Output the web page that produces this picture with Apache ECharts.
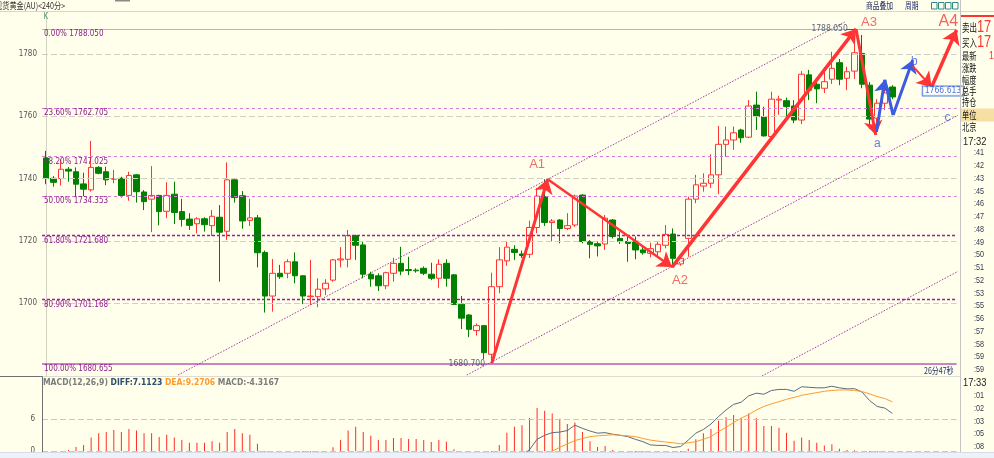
<!DOCTYPE html>
<html><head><meta charset="utf-8">
<script src="https://cdn.jsdelivr.net/npm/echarts@6/dist/echarts.min.js"></script>
<style>html,body{margin:0;padding:0;background:#FFFFEC;}#c{width:994px;height:458px;}</style>
</head><body><div id="c"></div>
<script>
// ---------------- data ----------------
const categories = Array.from({length: 121}, (_, i) => String(i + 1));

const opens = [1746.6,1740.1,1740.0,1743.0,1742.2,1738.3,1736.4,1743.6,1742.2,1739.8,
1740.1,1734.6,1741.2,1735.7,1733.4,1734.6,1729.5,1735.0,1729.4,1727.0,
1725.5,1727.1,1724.9,1727.6,1723.1,1739.6,1734.5,1726.6,1727.4,1716.3,
1702.3,1709.6,1709.6,1713.3,1708.8,1702.1,1702.1,1704.6,1707.4,1713.9,
1714.1,1721.7,1718.7,1709.3,1708.8,1705.6,1709.6,1712.8,1710.8,1710.6,
1711.2,1709.3,1708.0,1712.8,1709.1,1699.7,1696.2,1691.2,1692.8,1683.6,
1705.3,1713.6,1717.3,1715.8,1715.7,1724.3,1734.2,1725.9,1726.7,1724.0,
1725.1,1734.7,1719.8,1719.1,1719.0,1726.7,1720.8,1719.8,1719.9,1717.1,
1716.0,1716.5,1718.6,1722.2,1712.6,1720.8,1733.4,1737.6,1738.5,1741.2,
1751.0,1752.4,1755.6,1753.3,1763.6,1759.9,1753.5,1765.2,1765.0,1763.3,
1758.8,1773.3,1770.3,1769.0,1771.9,1777.2,1772.2,1774.5,1780.2,1770.0,
1759.4,1764.2,1769.4];

const closes = [1740.1,1738.8,1743.0,1742.4,1738.2,1736.6,1743.6,1741.7,1739.6,1740.0,
1734.6,1741.0,1735.8,1732.6,1734.6,1729.4,1734.6,1729.1,1726.9,1725.0,
1727.1,1725.2,1727.9,1722.8,1739.6,1733.9,1726.4,1727.4,1716.2,1702.3,
1709.6,1708.5,1713.3,1708.8,1702.3,1702.3,1704.5,1706.4,1713.9,1714.2,
1721.7,1718.6,1709.3,1707.8,1705.6,1709.8,1712.8,1710.3,1710.5,1710.4,
1709.6,1708.0,1712.5,1708.0,1699.6,1695.2,1691.6,1692.8,1684.1,1705.3,
1713.9,1718.0,1716.3,1715.3,1724.3,1734.4,1725.9,1726.4,1724.0,1724.9,
1734.4,1719.8,1718.9,1718.4,1727.3,1721.4,1719.8,1719.2,1717.1,1716.2,
1717.5,1718.9,1722.1,1714.4,1714.4,1733.4,1738.0,1738.5,1741.2,1751.0,
1752.4,1754.7,1753.1,1763.3,1759.9,1753.7,1765.5,1765.5,1763.1,1758.8,
1773.5,1768.4,1768.8,1771.1,1775.4,1771.9,1774.3,1780.4,1770.3,1759.1,
1764.2,1767.5,1766.2];

const lows = [1738.2,1737.4,1737.8,1739.0,1734.2,1734.4,1735.8,1741.4,1737.9,1738.5,
1733.9,1732.9,1732.3,1729.9,1722.8,1725.0,1727.3,1725.4,1724.6,1723.5,
1722.4,1723.0,1721.6,1706.9,1720.3,1732.3,1723.9,1724.8,1711.5,1697.0,
1697.3,1707.8,1708.0,1706.4,1699.7,1699.4,1698.7,1702.6,1706.9,1711.5,
1711.5,1713.9,1708.0,1705.3,1703.9,1704.5,1706.9,1709.0,1709.0,1709.8,
1709.0,1707.4,1705.0,1705.3,1699.4,1691.7,1689.1,1689.6,1682.1,1680.7,
1703.2,1712.0,1713.9,1714.5,1714.5,1722.5,1724.8,1719.7,1719.2,1723.5,
1724.5,1719.2,1714.4,1715.0,1717.1,1720.8,1719.0,1713.3,1714.1,1715.6,
1714.7,1714.9,1717.6,1711.5,1712.0,1714.9,1732.1,1735.8,1737.0,1735.0,
1747.0,1749.2,1751.5,1753.0,1755.6,1753.5,1752.9,1760.5,1760.0,1757.8,
1757.5,1765.2,1764.2,1767.5,1770.4,1770.0,1768.4,1772.0,1769.0,1756.0,
1755.0,1762.0,1765.5];

const highs = [1748.9,1740.8,1746.2,1743.7,1743.6,1741.9,1752.1,1744.0,1743.8,1742.8,
1740.6,1742.2,1741.4,1736.3,1744.0,1734.8,1738.8,1739.0,1733.5,1728.9,
1727.6,1727.6,1729.9,1731.5,1745.2,1739.8,1736.0,1733.5,1728.3,1716.9,
1714.2,1712.3,1714.1,1716.3,1709.0,1713.9,1708.0,1707.7,1714.2,1718.0,
1723.5,1722.0,1719.8,1710.1,1709.6,1710.1,1714.6,1718.1,1714.9,1711.2,
1711.8,1713.0,1714.1,1714.1,1709.3,1702.3,1696.5,1693.5,1693.0,1709.8,
1718.0,1720.0,1718.6,1716.9,1726.5,1737.0,1739.8,1727.0,1727.0,1728.9,
1734.8,1735.0,1720.3,1719.8,1728.3,1727.0,1723.0,1721.4,1721.4,1718.1,
1719.4,1719.8,1725.1,1724.0,1715.5,1734.2,1741.2,1741.7,1747.8,1756.9,
1756.7,1756.7,1756.0,1765.2,1767.9,1763.1,1767.9,1766.6,1766.0,1765.2,
1774.5,1774.9,1772.2,1775.8,1780.7,1778.4,1775.9,1788.05,1786.1,1771.0,
1765.5,1770.0,1770.0];

const macdHist = [-0.3,-0.2,-0.1,0.25,0.8,1.2,2.6,3.4,3.6,4.0,
3.6,4.2,3.9,3.4,3.4,2.7,3.1,2.6,2.1,1.6,
1.6,1.6,1.9,1.6,3.6,4.2,3.4,3.1,1.4,-1.0,
-1.8,-2.2,-2.0,-2.3,-2.8,-2.6,-2.0,-1.2,0.75,2.1,
3.9,4.6,3.6,2.9,2.1,2.1,2.5,2.5,2.3,2.3,
2.1,1.75,2.1,1.8,0.4,-1.2,-2.3,-2.8,-3.5,-0.5,
1.2,3.5,4.6,4.9,6.25,8.1,7.6,7.1,6.1,5.1,
5.4,3.6,1.9,0.8,1.0,0.25,-0.4,-0.6,-1.0,-1.2,
-1.8,-1.6,-1.3,-1.8,-1.0,0.5,2.25,3.4,4.2,5.75,
6.4,6.8,6.2,7.1,6.25,4.75,4.75,4.4,3.5,2.0,
2.6,2.1,1.6,1.1,1.3,0.5,0.25,0.2,-0.3,-2.5,
-3.7,-3.6,-4.3167];

const diffLine = [null,null,null,null,null,null,null,null,null,null,
null,null,null,null,null,null,null,null,null,null,
null,null,null,null,null,null,null,null,null,null,
null,null,null,null,null,null,null,null,null,null,
null,null,null,null,null,null,null,null,null,null,
null,null,null,null,null,null,null,null,null,-3.5,
-2.6,-1.8,-1.2,-0.7,0.3,2.25,3.0,3.5,3.6,3.9,
4.9,4.3,3.8,3.4,3.5,3.2,3.0,2.75,2.25,1.8,
1.2,1.1,1.1,0.7,0.9,2.1,3.4,4.1,5.1,6.5,
7.75,8.8,9.2,10.4,10.9,10.7,11.4,11.6,11.6,11.25,
12.1,12.0,11.9,11.9,12.2,11.9,11.7,11.75,11.1,9.5,
8.4,8.1,7.1123];

const deaLine = [null,null,null,null,null,null,null,null,null,null,
null,null,null,null,null,null,null,null,null,null,
null,null,null,null,null,null,null,null,null,null,
null,null,null,null,null,null,null,null,null,null,
null,null,null,null,null,null,null,null,null,null,
null,null,null,null,null,null,null,null,null,-5.0,
-4.6,-4.0,-3.4,-2.8,-2.2,-1.4,-0.6,0.0,0.75,1.4,
2.0,2.4,2.75,2.9,3.0,3.1,3.0,2.9,2.75,2.4,
2.1,1.9,1.75,1.6,1.4,1.6,1.8,2.25,2.75,3.7,
4.5,5.4,6.2,6.9,7.75,8.4,8.9,9.3,9.75,10.1,
10.5,10.75,11.0,11.25,11.4,11.5,11.5,11.4,11.2,10.75,
10.25,9.9,9.2706];

const priceTicks = [1700, 1720, 1740, 1760, 1780];
const macdTicks = [0, 6];

const fibPercents = ['0.00%', '23.60%', '38.20%', '50.00%', '61.80%', '80.90%', '100.00%'];
const fibValues = [1788.050, 1762.705, 1747.025, 1734.353, 1721.680, 1701.168, 1680.655];

// wave annotation points: [bar index, price]
const redWave = [[59.0, 1680.7], [66.4, 1739.8], [82.85, 1711.6], [107.2, 1788.05], [109.8, 1754.0]];
const blueWave = [[109.9, 1755.0], [111.0, 1771.7], [112.1, 1760.4], [114.7, 1778.1]];
const projWave = [[114.7, 1776.1], [117.2, 1769.4], [120.5, 1787.7]];
const channelUpper = [[17.5, 1676.95], [105.7, 1790.27]];
const channelLower = [[55.7, 1676.95], [120.9, 1760.6]];
const channelThird = [[94.75, 1676.63], [120.9, 1710.5]];

const redLabels = [[65.0, 1744.4, 'A1'], [83.9, 1707.4, 'A2'], [108.9, 1790.0, 'A3']];
const bigLabels = [[119.4, 1790.4, 'A4']];
const blueLabels = [[110.0, 1751.3, 'a'], [114.9, 1777.5, 'b'], [119.3, 1759.4, 'c']];
const priceNotes = [[55.7, 1680.5, '1680.700'], [103.7, 1788.03, '1788.050']];
const lastPriceTag = [[118.7, 1768.1, '1766.613']];

const sideLabels = ['卖出', '买入', '最新', '涨跌', '幅度', '总手', '持仓', '单位', '北京'];
const tickTimesA = [':41', ':42', ':43', ':45', ':46', ':47', ':48', ':49', ':50', ':51', ':52', ':53', ':55', ':56', ':57', ':58', ':59', ':59'];
const tickTimesB = [':01', ':02', ':03', ':05', ':08'];

// ---------------- chart ----------------
const BG = '#FFFFEC';
const NARROW = "'Liberation Sans Narrow','Arial Narrow','DejaVu Sans Condensed',sans-serif";
const CJK = "'Noto Sans CJK SC','Noto Sans',sans-serif";
const LIB = "'Liberation Sans',sans-serif";
const RED = '#FF3434';
const BLUE = '#3B5BE0';

const chart = echarts.init(document.getElementById('c'));
const candleData = opens.map((o, i) => [o, closes[i], lows[i], highs[i]]);

const fibStyles = [
  {color: '#CFA8BE', type: 'solid', width: 1},
  {color: '#D47AD4', type: [3, 3], width: 1},
  {color: '#D47AD4', type: [3, 3], width: 1},
  {color: '#D47AD4', type: [3, 3], width: 1},
  {color: '#9A1E96', type: [3, 2], width: 1.3},
  {color: '#9A1E96', type: [3, 2], width: 1.3},
  {color: '#B45CB4', type: 'solid', width: 1.5}
];

function segs(points, widths, noHead) {
  const out = [];
  for (let i = 0; i < points.length - 1; i++) {
    const end = {coord: points[i + 1]};
    if (noHead && noHead.indexOf(i) >= 0) end.symbol = 'none';
    out.push([{coord: points[i], lineStyle: {width: widths[i]}}, end]);
  }
  return out;
}

function T(text, x, y, size, color, o) {
  o = o || {};
  return {type: 'text', x: x, y: y, scaleX: o.sx || 1, z: 60, silent: true,
    style: {text: text, fill: color, fontSize: size, fontFamily: o.font || CJK,
      fontWeight: o.weight || 'normal', textAlign: o.align || 'left', align: o.align || 'left',
      textVerticalAlign: 'middle', verticalAlign: 'middle'}};
}
function L(x1, y1, x2, y2, color, w) {
  return {type: 'line', z: 55, silent: true, shape: {x1: x1, y1: y1, x2: x2, y2: y2}, style: {stroke: color, lineWidth: w || 1}};
}
function R(x, y, w, h, fill, stroke) {
  return {type: 'rect', z: 50, silent: true, shape: {x: x, y: y, width: w, height: h}, style: {fill: fill || 'none', stroke: stroke || 'none', lineWidth: 1}};
}

const graphics = [];
// header
graphics.push(L(0, 11.5, 994, 11.5, '#D6D6CC'));
graphics.push(R(115, 0, 15, 1.5, '#8A8A8A'));
graphics.push(T('现货黄金(AU)<240分>', -5, 6, 9, '#303030', {sx: 0.8}));
graphics.push(T('商品叠加', 866, 5.5, 9, '#1E2A66', {sx: 0.75}));
graphics.push(T('周期', 905, 5.5, 9, '#1E2A66', {sx: 0.75}));
[931.5, 938.5, 945.5, 952.5].forEach(function (x) { graphics.push(R(x, 2.5, 5.5, 6.5, 'none', '#2C8A8A')); });
graphics.push(T('K', 43.5, 17, 8, '#4E9E72', {font: NARROW}));
// panel frames
graphics.push(L(42, 376.5, 960, 376.5, '#DCDCD0'));
graphics.push(L(0, 376.5, 42.5, 376.5, '#707070'));
graphics.push(L(42.5, 376.5, 42.5, 452, '#707070'));
graphics.push(R(0, 452, 994, 6, '#EDF1F8'));
graphics.push(L(0, 452.5, 994, 452.5, '#D6DCE8'));
// sidebar
graphics.push(L(960.5, 0, 960.5, 452, '#C4C4C4'));
graphics.push(R(961, 15, 33, 2, RED));
graphics.push(R(961, 108.5, 33, 13, '#F7DFA4'));
const sideY = [27.5, 43, 56, 68.5, 80, 91.5, 102.5, 115, 127.5];
sideLabels.forEach(function (t, i) {
  const big = i < 2;
  graphics.push(T(t, 962, sideY[i], big ? 11 : 10, '#111', {sx: big ? 0.68 : 0.72}));
});
graphics.push(T('17', 977, 27.5, 16, RED, {sx: 0.8, font: LIB}));
graphics.push(T('17', 977, 43, 16, RED, {sx: 0.8, font: LIB}));
graphics.push(T('1', 989, 56, 11, RED, {sx: 0.8, font: LIB}));
graphics.push(T('17:32', 963, 142, 11, '#222', {sx: 0.85, font: LIB}));
tickTimesA.forEach(function (t, i) { graphics.push(T(t, 974, 153 + i * 12.75, 9, '#33384E', {sx: 0.8, font: LIB})); });
graphics.push(T('17:33', 963, 383, 11, '#222', {sx: 0.85, font: LIB}));
tickTimesB.forEach(function (t, i) { graphics.push(T(t, 974, 396 + i * 12.6, 9, '#33384E', {sx: 0.8, font: LIB})); });
graphics.push(T('26分47秒', 924, 370.5, 9, '#203070', {sx: 0.78}));

function labelSeries(data, color, size, extra) {
  return {
    type: 'scatter', xAxisIndex: 2, yAxisIndex: 0, data: data, symbolSize: 1, z: 20, silent: true,
    itemStyle: {color: 'rgba(0,0,0,0)'},
    label: Object.assign({show: true, position: 'inside', formatter: function (p) { return p.value[2]; },
      color: color, fontSize: size, fontFamily: LIB}, extra || {})
  };
}

const option = {
  backgroundColor: BG,
  animation: false,
  title: {
    text: '{a|MACD(12,26,9)} {b|DIFF:7.1123} {c|DEA:9.2706} {a|MACD:-4.3167}',
    left: 43, top: 378.5, padding: 0,
    textStyle: {fontSize: 8.5, fontFamily: NARROW, rich: {
      a: {color: '#7C7C7C', fontSize: 8.5, fontFamily: NARROW},
      b: {color: '#2E4C6E', fontSize: 8.5, fontFamily: NARROW},
      c: {color: '#FF9A2E', fontSize: 8.5, fontFamily: NARROW}
    }}
  },
  grid: [
    {left: 42, top: 12, width: 914.6, height: 364},
    {left: 42, top: 377, width: 914.6, height: 76}
  ],
  xAxis: [
    {type: 'category', gridIndex: 0, data: categories, boundaryGap: true, show: false},
    {type: 'category', gridIndex: 1, data: categories, boundaryGap: true, show: false},
    {type: 'value', gridIndex: 0, min: -0.5, max: 120.5, show: false}
  ],
  yAxis: [
    {type: 'value', gridIndex: 0, min: 1676.63, max: 1793.48, splitLine: {show: false},
      axisLine: {show: true, lineStyle: {color: '#D2D2C2'}}, axisTick: {show: false},
      axisLabel: {customValues: priceTicks, margin: 5, fontSize: 8, color: '#555', fontFamily: NARROW,
        formatter: function (v) { return String(Math.round(v)); }}},
    {type: 'value', gridIndex: 1, min: -0.32, max: 13.93, splitLine: {show: false},
      axisLine: {show: false}, axisTick: {show: false},
      axisLabel: {customValues: macdTicks, margin: 7, fontSize: 8, color: '#555', fontFamily: NARROW,
        formatter: function (v) { return String(Math.round(v)); }}}
  ],
  graphic: graphics,
  series: [
    {type: 'line', xAxisIndex: 0, yAxisIndex: 0, data: [], z: 1, silent: true,
      markLine: {silent: true, symbol: 'none', label: {show: false},
        lineStyle: {color: '#CFCFC2', type: [6, 3], width: 1},
        data: priceTicks.map(function (v) { return {yAxis: v}; })}},
    {type: 'candlestick', xAxisIndex: 0, yAxisIndex: 0, data: candleData, barWidth: 6, z: 3,
      itemStyle: {color: BG, color0: '#008000', borderColor: RED, borderColor0: '#008000', borderColorDoji: RED, borderWidth: 1}},
    {type: 'line', xAxisIndex: 0, yAxisIndex: 0, data: [], z: 4, silent: true,
      markLine: {silent: true, symbol: 'none',
        data: fibValues.map(function (v, i) {
          return {yAxis: v, lineStyle: fibStyles[i],
            label: {show: true, position: 'insideStartBottom', distance: [2, 1], formatter: fibPercents[i] + ' ' + v.toFixed(3),
              color: '#8E1C8E', fontSize: 8, fontFamily: NARROW}};
        })}},
    {type: 'line', xAxisIndex: 2, yAxisIndex: 0, data: channelUpper, showSymbol: false, clip: false, z: 5, silent: true,
      lineStyle: {color: '#A03CA8', width: 1, type: [1.5, 1.5]}},
    {type: 'line', xAxisIndex: 2, yAxisIndex: 0, data: channelLower, showSymbol: false, clip: false, z: 5, silent: true,
      lineStyle: {color: '#A03CA8', width: 1, type: [1.5, 1.5]}},
    {type: 'line', xAxisIndex: 2, yAxisIndex: 0, data: channelThird, showSymbol: false, clip: false, z: 5, silent: true,
      lineStyle: {color: '#A03CA8', width: 1, type: [1.5, 1.5]}},
    {type: 'line', xAxisIndex: 2, yAxisIndex: 0, data: [], z: 8, silent: true,
      markLine: {silent: true, symbol: ['none', 'arrow'], symbolSize: 14, label: {show: false},
        lineStyle: {color: RED, type: 'solid', width: 3},
        data: segs(redWave, [3, 2.5, 3.5, 3])}},
    {type: 'line', xAxisIndex: 2, yAxisIndex: 0, data: [], z: 8, silent: true,
      markLine: {silent: true, symbol: ['none', 'arrow'], symbolSize: 13, label: {show: false},
        lineStyle: {color: BLUE, type: 'solid', width: 3},
        data: segs(blueWave, [3, 3, 3], [1])}},
    {type: 'line', xAxisIndex: 2, yAxisIndex: 0, data: [], z: 8, silent: true,
      markLine: {silent: true, symbol: ['none', 'arrow'], symbolSize: 14, label: {show: false},
        lineStyle: {color: RED, type: 'solid', width: 3},
        data: segs(projWave, [2, 3.5])}},
    {type: 'line', xAxisIndex: 2, yAxisIndex: 0, data: [], z: 7, silent: true,
      markLine: {silent: true, symbol: 'none', label: {show: false}, lineStyle: {color: '#555', type: 'solid', width: 1},
        data: [[{coord: [105.9, 1788.05]}, {coord: [106.9, 1788.05]}]]}},
    labelSeries(redLabels, '#F04646', 13),
    labelSeries(bigLabels, '#F03A3A', 16),
    labelSeries(blueLabels, '#3F5CD8', 12),
    labelSeries(priceNotes, '#33405E', 8.5, {fontFamily: NARROW}),
    labelSeries(lastPriceTag, '#1F4FD0', 8.5, {fontFamily: NARROW, backgroundColor: '#FFFFFF', borderColor: '#2F62D8', borderWidth: 1, padding: [0, 2]}),
    {type: 'line', xAxisIndex: 1, yAxisIndex: 1, data: [], z: 1, silent: true,
      markLine: {silent: true, symbol: 'none', label: {show: false},
        lineStyle: {color: '#C8C8BC', type: [6, 3], width: 1},
        data: macdTicks.map(function (v) { return {yAxis: v}; })}},
    {type: 'bar', xAxisIndex: 1, yAxisIndex: 1, data: macdHist, barWidth: 1, z: 3, silent: true,
      itemStyle: {color: function (p) { return p.value >= 0 ? '#FF2A2A' : '#009000'; }}},
    {type: 'line', xAxisIndex: 1, yAxisIndex: 1, data: diffLine, showSymbol: false, z: 4, silent: true,
      lineStyle: {color: '#5C6B7C', width: 1}},
    {type: 'line', xAxisIndex: 1, yAxisIndex: 1, data: deaLine, showSymbol: false, z: 4, silent: true,
      lineStyle: {color: '#FF9A2E', width: 1}}
  ]
};
chart.setOption(option);
</script></body></html>
